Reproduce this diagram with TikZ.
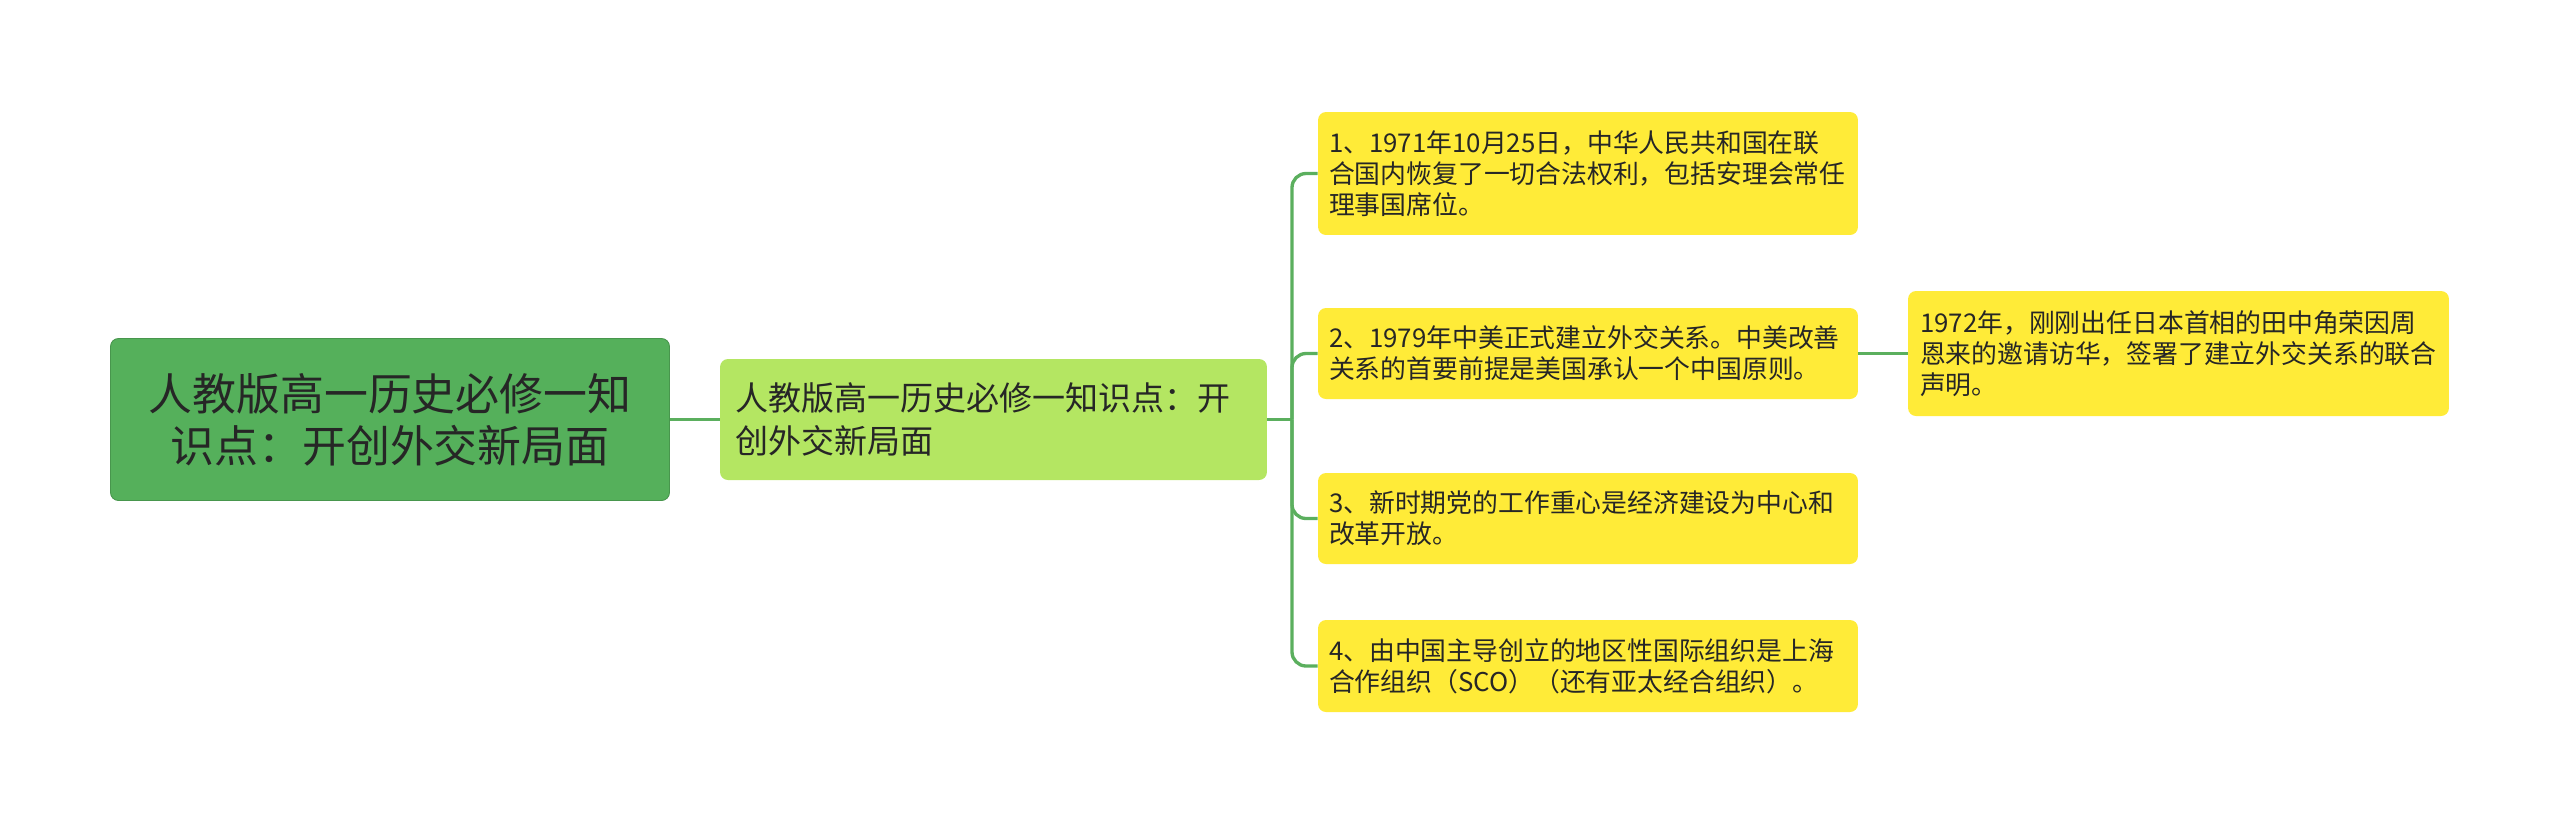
\documentclass[tikz,border=0pt]{standalone}
\usepackage{fontspec}
\setmainfont{Noto Sans CJK SC}
\definecolor{rootgreen}{HTML}{55B05B}
\definecolor{midgreen}{HTML}{B4E662}
\definecolor{leafyellow}{HTML}{FFEB38}
\definecolor{linkgreen}{HTML}{5BAF5E}
\begin{document}
\begin{tikzpicture}[x=0.02cm,y=-0.02cm,
  box/.style={rounded corners=4.5pt,align=left,inner ysep=0pt,text=black!85},
  leaf/.style={box,fill=leafyellow,text width=10.36cm,inner xsep=0.22cm,
    font=\fontsize{14.7pt}{17.6pt}\selectfont},
  link/.style={draw=linkgreen,line width=1.9pt}]
\useasboundingbox (0,0) rectangle (2560,823);
\node[box,fill=rootgreen,draw=rootgreen!85!black,line width=0.5pt,align=center,
  minimum width=11.18cm,minimum height=3.24cm,
  font=\fontsize{25pt}{29.6pt}\selectfont] (root) at (390,419.5)
  {人教版高一历史必修一知\\识点：开创外交新局面};
\node[box,fill=midgreen,text width=10.34cm,inner xsep=0.3cm,minimum height=2.42cm,
  font=\fontsize{18.8pt}{24.5pt}\selectfont] (mid) at (993.5,419.5)
  {人教版高一历史必修一知识点：开\\创外交新局面};
\node[leaf,minimum height=2.46cm] (l1) at (1588,173.5)
  {1、1971年10月25日，中华人民共和国在联\\合国内恢复了一切合法权利，包括安理会常任\\理事国席位。};
\node[leaf,minimum height=1.82cm] (l2) at (1588,353.5)
  {2、1979年中美正式建立外交关系。中美改善\\关系的首要前提是美国承认一个中国原则。};
\node[leaf,minimum height=1.82cm] (l3) at (1588,518.5)
  {3、新时期党的工作重心是经济建设为中心和\\改革开放。};
\node[leaf,minimum height=1.84cm] (l4) at (1588,666)
  {4、由中国主导创立的地区性国际组织是上海\\合作组织（SCO）（还有亚太经合组织）。};
\node[leaf,text width=10.34cm,inner xsep=0.24cm,minimum height=2.5cm] (l2a) at (2178.5,353.5)
  {1972年，刚刚出任日本首相的田中角荣因周\\恩来的邀请访华，签署了建立外交关系的联合\\声明。};
\coordinate (fork) at (1292,419.5);
\draw[link] (root.east) -- (mid.west);
\draw[link] (mid.east) -- (fork);
\foreach \n in {l1,l2,l3,l4}
  \draw[link,rounded corners=8pt] (fork) |- (\n.west);
\draw[link] (l2.east) -- (l2a.west);
\end{tikzpicture}
\end{document}
